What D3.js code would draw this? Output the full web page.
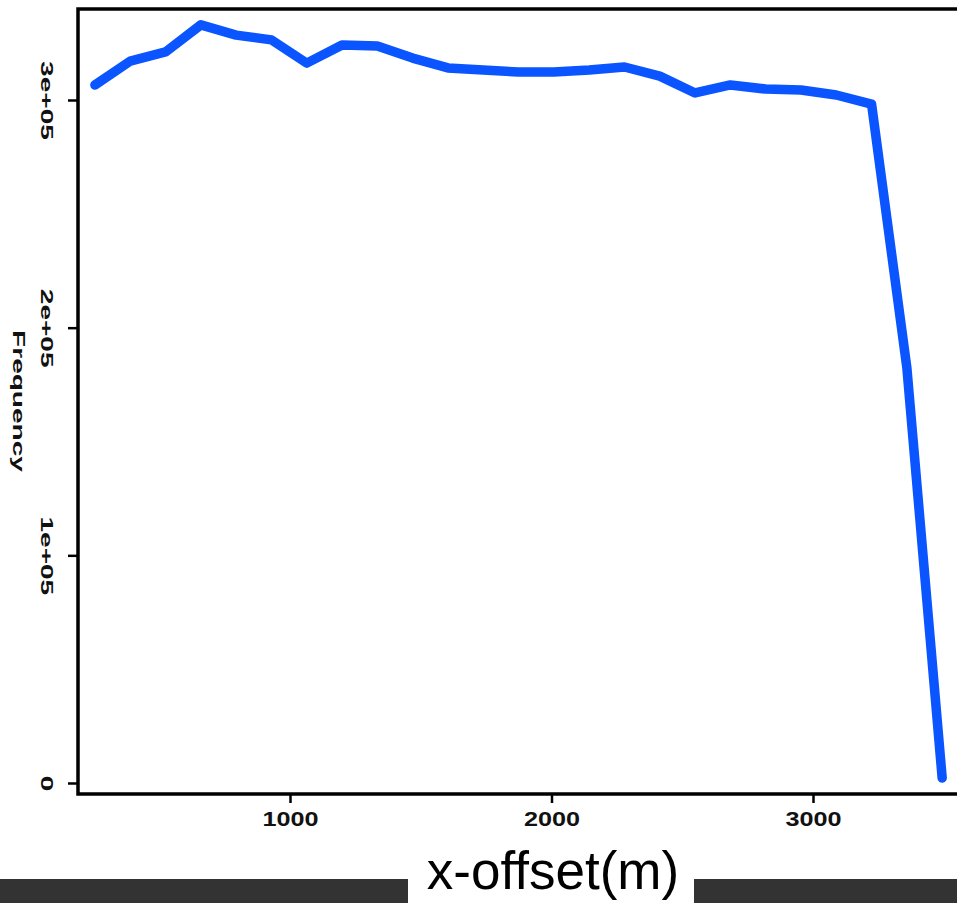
<!DOCTYPE html>
<html>
<head>
<meta charset="utf-8">
<script src="https://cdn.jsdelivr.net/npm/d3@7/dist/d3.min.js"></script>
<style>
  html, body { margin: 0; padding: 0; background: #ffffff; }
  svg { display: block; }
</style>
</head>
<body>
<svg id="chart" width="957" height="903"></svg>
<script>
// ---- data ----
const offsets = [254, 389, 524, 659, 794, 929, 1064, 1199, 1334, 1469, 1604, 1739, 1874,
                 2009, 2144, 2279, 2414, 2549, 2684, 2819, 2954, 3089, 3224, 3359, 3494];
const frequencies = [306600, 317100, 321100, 333000, 328500, 326400, 316200, 324200, 323700,
                     318400, 314100, 313200, 312300, 312300, 313200, 314500, 310500, 303100,
                     306600, 304800, 304400, 302200, 298200, 182300, 2200];
const xTicks = [1000, 2000, 3000];
const xTickLabels = ["1000", "2000", "3000"];
const yTicks = [0, 100000, 200000, 300000];
const yTickLabels = ["0", "1e+05", "2e+05", "3e+05"];
const yTitle = "Frequency";
const xTitle = "x-offset(m)";

// ---- layout ----
const W = 957, H = 903;
const box = { left: 78, right: 960, top: 9, bottom: 794 };

const svg = d3.select("#chart");
svg.append("rect").attr("width", W).attr("height", H).attr("fill", "#ffffff");

const x = d3.scaleLinear().domain([1000, 3000]).range([290, 813]);
const y = d3.scaleLinear().domain([0, 300000]).range([783, 100]);

// line
const line = d3.line().x((d, i) => x(offsets[i])).y(d => y(d));
svg.append("path")
  .datum(frequencies)
  .attr("d", line)
  .attr("fill", "none")
  .attr("stroke", "#0a55ff")
  .attr("stroke-width", 9.5)
  .attr("stroke-linejoin", "round")
  .attr("stroke-linecap", "round");

// box lines (left, bottom, top; right side is cut off)
const boxG = svg.append("g").attr("stroke", "#000").attr("stroke-width", 3.5).attr("fill", "none");
boxG.append("path").attr("d",
  `M${box.right},${box.top}H${box.left}V${box.bottom}H${box.right}`)
  .attr("stroke-linejoin", "miter");

// y axis
const yAxis = d3.axisLeft(y).tickValues(yTicks)
  .tickFormat((d, i) => yTickLabels[i]).tickSize(10).tickPadding(0);
const gy = svg.append("g").attr("transform", `translate(${box.left},0)`).call(yAxis);
gy.select(".domain").remove();
gy.selectAll(".tick line").attr("stroke", "#000").attr("stroke-width", 2.5);
gy.selectAll(".tick text")
  .attr("x", null).attr("dy", null)
  .attr("text-anchor", "middle")
  .attr("dominant-baseline", "central")
  .attr("transform", `translate(-31,0) rotate(90) scale(1.65,1)`)
  .attr("font-family", "Liberation Sans, Arial, sans-serif")
  .attr("font-weight", "bold")
  .attr("font-size", 17)
  .attr("fill", "#111");

// x axis
const xAxis = d3.axisBottom(x).tickValues(xTicks)
  .tickFormat((d, i) => xTickLabels[i]).tickSize(9).tickPadding(0);
const gx = svg.append("g").attr("transform", `translate(0,${box.bottom})`).call(xAxis);
gx.select(".domain").remove();
gx.selectAll(".tick line").attr("stroke", "#000").attr("stroke-width", 2.5);
gx.selectAll(".tick text")
  .attr("y", null).attr("dy", null)
  .attr("text-anchor", "middle")
  .attr("dominant-baseline", "central")
  .attr("transform", `translate(0,25) scale(1.2,1)`)
  .attr("font-family", "Liberation Sans, Arial, sans-serif")
  .attr("font-weight", "bold")
  .attr("font-size", 21)
  .attr("fill", "#111");

// y title
svg.append("text")
  .attr("transform", `translate(19,401) rotate(90) scale(1.65,1)`)
  .attr("text-anchor", "middle")
  .attr("dominant-baseline", "central")
  .attr("font-family", "Liberation Sans, Arial, sans-serif")
  .attr("font-weight", "bold")
  .attr("font-size", 17)
  .attr("fill", "#111")
  .text(yTitle);

// bottom dark bars with the x title between them
svg.append("rect").attr("x", 0).attr("y", 879).attr("width", 408).attr("height", H - 879).attr("fill", "#333333");
svg.append("rect").attr("x", 694).attr("y", 879).attr("width", W - 694).attr("height", H - 879).attr("fill", "#333333");
svg.append("text")
  .attr("x", 553).attr("y", 889)
  .attr("text-anchor", "middle")
  .attr("font-family", "Liberation Sans, Arial, sans-serif")
  .attr("font-size", 53)
  .attr("fill", "#000")
  .text(xTitle);
</script>
</body>
</html>
